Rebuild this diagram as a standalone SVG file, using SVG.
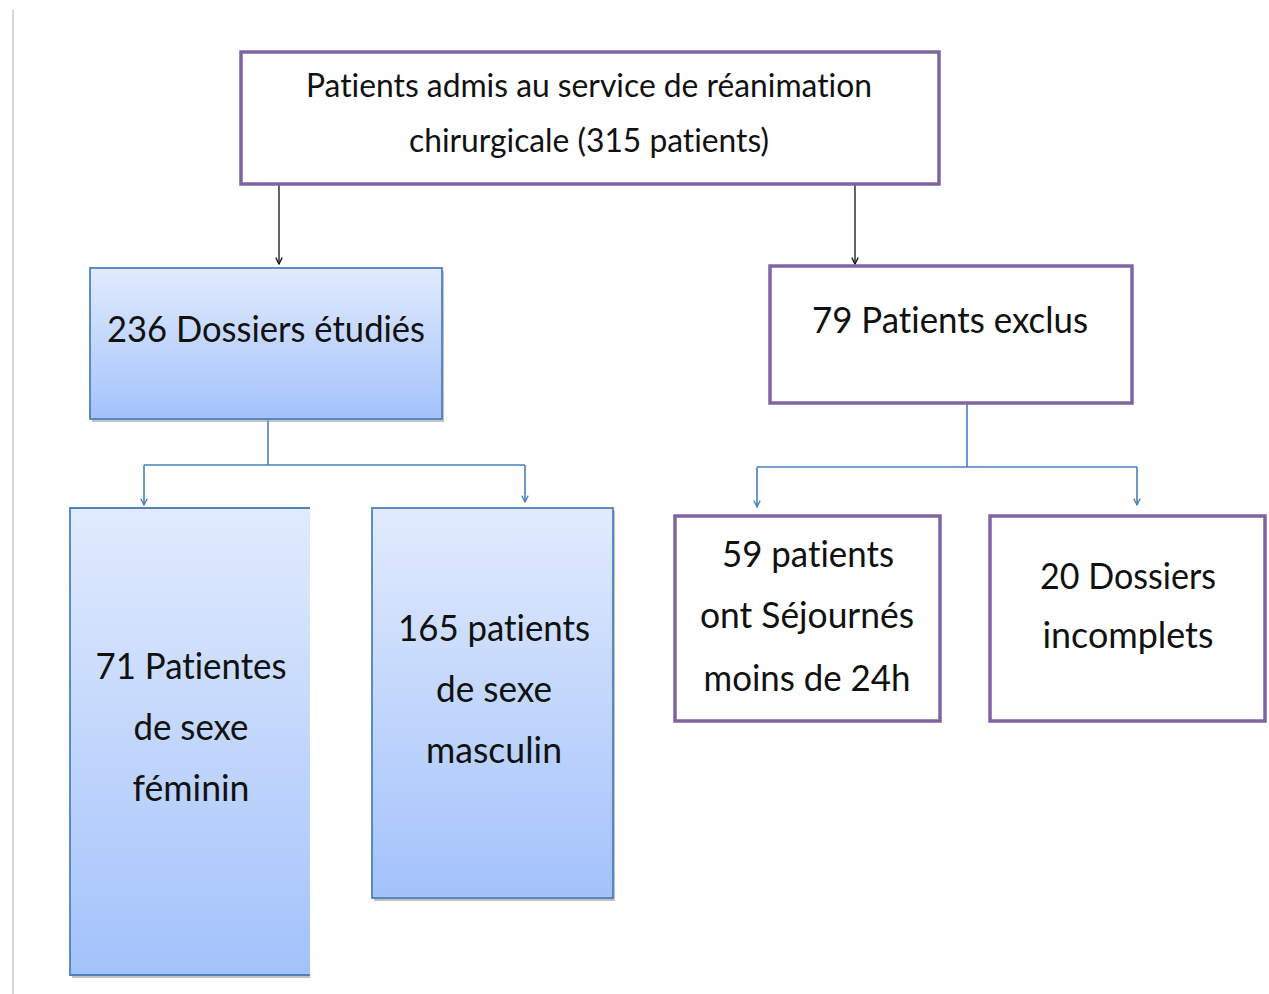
<svg xmlns="http://www.w3.org/2000/svg" width="1269" height="994" viewBox="0 0 1269 994">
<defs>
<linearGradient id="blueGrad" x1="0" y1="0" x2="0" y2="1">
<stop offset="0" stop-color="#e1ebfd"/>
<stop offset="1" stop-color="#a3c2fb"/>
</linearGradient>
<marker id="arrBlack" viewBox="0 0 10 10" refX="9" refY="5" markerWidth="8" markerHeight="8" orient="auto" markerUnits="userSpaceOnUse">
<path d="M1,1 L9,5 L1,9" fill="none" stroke="#111" stroke-width="1.6"/>
</marker>
<marker id="arrBlue" viewBox="0 0 10 10" refX="9" refY="5" markerWidth="8" markerHeight="8" orient="auto" markerUnits="userSpaceOnUse">
<path d="M1,1 L9,5 L1,9" fill="none" stroke="#4a7ebb" stroke-width="1.6"/>
</marker>
</defs>
<style>
.t{font-family:Lato,"Open Sans","Liberation Sans",sans-serif;fill:#111;text-anchor:middle;font-variant-ligatures:none;font-feature-settings:"liga" 0}
.purple{fill:#fff;stroke:#8064a2;stroke-width:3.5}
.blue{fill:url(#blueGrad);stroke:#4f81bd;stroke-width:1.8}
.shadow{fill:#9a9a9a;opacity:0.6}
.cb{fill:none;stroke:#111;stroke-width:1.3}
.cu{fill:none;stroke:#4a7ebb;stroke-width:1.6}
</style>
<rect width="1269" height="994" fill="#fff"/>
<line x1="13" y1="10" x2="13" y2="994" stroke="#c8c8c8" stroke-width="1.5"/>

<g id="connectors">
<path class="cb" d="M279,184 V264" marker-end="url(#arrBlack)"/>
<path class="cb" d="M855,184 V264" marker-end="url(#arrBlack)"/>
<path class="cu" d="M268,420 V465"/>
<path class="cu" d="M144,465 H525"/>
<path class="cu" d="M144,465 V505" marker-end="url(#arrBlue)"/>
<path class="cu" d="M525,465 V502" marker-end="url(#arrBlue)"/>
<path class="cu" d="M967,404 V467"/>
<path class="cu" d="M757,467 H1137"/>
<path class="cu" d="M757,467 V507" marker-end="url(#arrBlue)"/>
<path class="cu" d="M1137,467 V505" marker-end="url(#arrBlue)"/>
</g>

<g id="node-admis">
<rect class="purple" x="241" y="52" width="698" height="132"/>
<text class="t" x="589" y="97" font-size="33" textLength="566" lengthAdjust="spacingAndGlyphs">Patients admis au service de réanimation</text>
<text class="t" x="589" y="152" font-size="33" textLength="360" lengthAdjust="spacingAndGlyphs">chirurgicale (315 patients)</text>
</g>

<g id="node-etudies">
<rect class="shadow" x="92" y="271" width="352" height="151"/>
<rect class="blue" x="90" y="268" width="352" height="151"/>
<text class="t" x="266" y="342" font-size="37" textLength="318" lengthAdjust="spacingAndGlyphs">236 Dossiers étudiés</text>
</g>

<g id="node-exclus">
<rect class="purple" x="770" y="266" width="362" height="137"/>
<text class="t" x="950" y="333" font-size="37" textLength="276" lengthAdjust="spacingAndGlyphs">79 Patients exclus</text>
</g>

<g id="node-feminin">
<rect class="shadow" x="72" y="511" width="238" height="467"/>
<rect x="70" y="508" width="240" height="467" fill="url(#blueGrad)"/>
<path d="M310,508 H70 V975 H310" fill="none" stroke="#4f81bd" stroke-width="1.8"/>
<text class="t" x="191" y="679" font-size="37" textLength="191" lengthAdjust="spacingAndGlyphs">71 Patientes</text>
<text class="t" x="191" y="740" font-size="37" textLength="115" lengthAdjust="spacingAndGlyphs">de sexe</text>
<text class="t" x="191" y="801" font-size="37" textLength="117" lengthAdjust="spacingAndGlyphs">féminin</text>
</g>

<g id="node-masculin">
<rect class="shadow" x="374" y="511" width="241" height="390"/>
<rect class="blue" x="372" y="508" width="241" height="390"/>
<text class="t" x="494" y="641" font-size="37" textLength="192" lengthAdjust="spacingAndGlyphs">165 patients</text>
<text class="t" x="494" y="702" font-size="37" textLength="116" lengthAdjust="spacingAndGlyphs">de sexe</text>
<text class="t" x="494" y="763" font-size="37" textLength="136" lengthAdjust="spacingAndGlyphs">masculin</text>
</g>

<g id="node-sejour">
<rect class="purple" x="675" y="516" width="265" height="205"/>
<text class="t" x="808" y="567" font-size="36" textLength="172" lengthAdjust="spacingAndGlyphs">59 patients</text>
<text class="t" x="807" y="628" font-size="36" textLength="214" lengthAdjust="spacingAndGlyphs">ont Séjournés</text>
<text class="t" x="807" y="691" font-size="36" textLength="207" lengthAdjust="spacingAndGlyphs">moins de 24h</text>
</g>

<g id="node-incomplets">
<rect class="purple" x="990" y="516" width="275" height="205"/>
<text class="t" x="1128" y="589" font-size="36" textLength="176" lengthAdjust="spacingAndGlyphs">20 Dossiers</text>
<text class="t" x="1128" y="648" font-size="36" textLength="171" lengthAdjust="spacingAndGlyphs">incomplets</text>
</g>
</svg>
